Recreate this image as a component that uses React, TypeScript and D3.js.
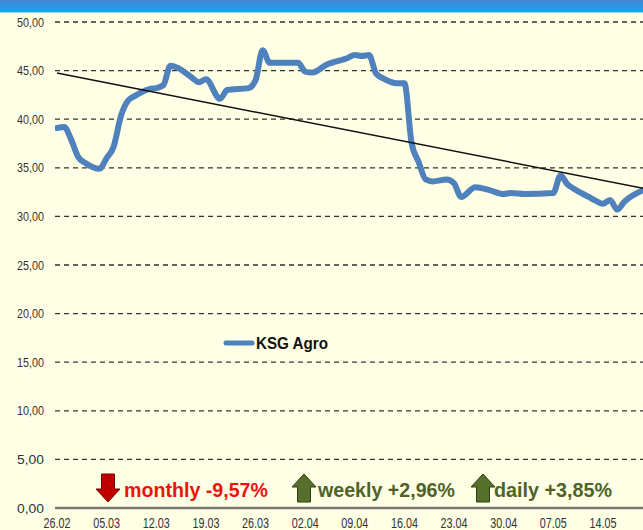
import React from "react";
import * as d3 from "d3";

const W = 643;
const H = 530;

const seriesName = "KSG Agro";
const dates = [
  "26.02", "27.02", "28.02", "01.03", "02.03", "04.03", "05.03", "06.03", "07.03", "08.03",
  "09.03", "11.03", "12.03", "13.03", "14.03", "15.03", "17.03", "18.03", "19.03", "21.03",
  "22.03", "25.03", "26.03", "27.03", "28.03", "01.04", "02.04", "03.04", "05.04", "08.04",
  "09.04", "10.04", "11.04", "12.04", "13.04", "15.04", "16.04", "17.04", "18.04", "19.04",
  "20.04", "22.04", "23.04", "24.04", "26.04", "28.04", "30.04", "01.05", "03.05", "07.05",
  "08.05", "09.05", "10.05", "12.05", "13.05", "14.05", "15.05", "16.05", "17.05", "20.05",
];
const values = [
  39.1, 39.2, 37.9, 36.1, 35.5, 34.9, 36.0, 37.2, 40.3, 41.9,
  42.4, 43.1, 43.2, 43.5, 45.5, 45.3, 44.3, 43.8, 44.1, 42.1,
  43.0, 43.2, 44.0, 47.1, 45.8, 45.8, 44.9, 44.8, 45.6, 46.3,
  46.6, 46.5, 46.6, 44.7, 44.2, 43.7, 43.7, 37.6, 35.6, 33.8,
  33.6, 33.8, 33.4, 32.0, 33.0, 32.7, 32.3, 32.4, 32.3, 32.4,
  34.2, 33.3, 32.8, 32.0, 31.6, 31.3, 31.7, 30.7, 31.5, 32.8,
];
const trendDates = ["26.02", "20.05"];
const trendValues = [44.75, 32.85];
const xTickLabels = ["26.02", "05.03", "12.03", "19.03", "26.03", "02.04", "09.04", "16.04", "23.04", "30.04", "07.05", "14.05"];
const yTicks = [0, 5, 10, 15, 20, 25, 30, 35, 40, 45, 50];
const changeLabels = ["monthly -9,57%", "weekly +2,96%", "daily +3,85%"];
const changeDirs = ["down", "up", "up"];

const parse = (s: string) => d3.timeParse("%d.%m.%Y")(s + ".2018") as Date;

export default function App() {
  const x = d3.scaleTime().domain([parse("26.02"), parse("20.05")]).range([57, 645.5]);
  const y = d3.scaleLinear().domain([0, 50]).range([508, 22]);
  const plotLeft = 55;
  const plotRight = W;

  const pts = dates.map((d, i) => ({ date: parse(d), v: values[i] }));
  const line = d3
    .line<{ date: Date; v: number }>()
    .x((d) => x(d.date))
    .y((d) => y(d.v))
    .curve(d3.curveMonotoneX);
  const trendPts = trendDates.map((d, i) => ({ date: parse(d), v: trendValues[i] }));
  const trendLine = d3
    .line<{ date: Date; v: number }>()
    .x((d) => x(d.date))
    .y((d) => y(d.v));

  const fmt = (v: number) => v.toFixed(2).replace(".", ",");

  const annX = [96, 292, 471];
  const annTextX = [124, 318, 494];
  const annTextW = [144, 137, 118];
  const red = "#EE1111";
  const green = "#4F6228";

  const arrow = (x0: number, dir: string, key: number) => {
    const w = 24;
    const top = 474;
    const bot = 502;
    const sh = 6.5;
    const cx = x0 + w / 2;
    if (dir === "down") {
      const hb = 489;
      const p = `M${cx - sh},${top} L${cx + sh},${top} L${cx + sh},${hb} L${x0 + w},${hb} L${cx},${bot} L${x0},${hb} L${cx - sh},${hb} Z`;
      return <path key={key} d={p} fill="#C00000" stroke="#7a0000" strokeWidth={1} />;
    }
    const hb = 487;
    const p = `M${cx},${top} L${x0 + w},${hb} L${cx + sh},${hb} L${cx + sh},${bot} L${cx - sh},${bot} L${cx - sh},${hb} L${x0},${hb} Z`;
    return <path key={key} d={p} fill="#56702C" stroke="#2f3d16" strokeWidth={1} />;
  };

  return (
    <svg
      width={W}
      height={H}
      style={{ position: "absolute", left: 0, top: 0, display: "block" }}
      fontFamily="Arial, 'Liberation Sans', sans-serif"
    >
      <defs>
        <linearGradient id="hdr" x1="0" y1="0" x2="0" y2="1">
          <stop offset="0" stopColor="#4A86D6" />
          <stop offset="1" stopColor="#0EA6EE" />
        </linearGradient>
        <clipPath id="plotClip">
          <rect x={plotLeft} y={0} width={plotRight - plotLeft} height={H} />
        </clipPath>
      </defs>
      <rect x={0} y={0} width={W} height={H} fill="#FFFFE6" />
      <rect x={0} y={0} width={W} height={12} fill="url(#hdr)" />
      <line x1={0} x2={W} y1={12.5} y2={12.5} stroke="#9fd8f6" strokeWidth={1} />

      {yTicks.map((t) => (
        <g key={t}>
          {t > 0 && (
            <line
              x1={plotLeft}
              x2={plotRight}
              y1={y(t)}
              y2={y(t)}
              stroke="#333"
              strokeWidth={1.3}
              strokeDasharray="5,4"
            />
          )}
          <text
            x={44}
            y={y(t)}
            dy="0.35em"
            textAnchor="end"
            fontSize={13}
            fill="#333"
            textLength={27}
            lengthAdjust="spacingAndGlyphs"
          >
            {fmt(t)}
          </text>
        </g>
      ))}

      <line x1={plotLeft} x2={plotRight} y1={y(0)} y2={y(0)} stroke="#7a7a72" strokeWidth={2.5} />

      {xTickLabels.map((l) => (
        <text
          key={l}
          x={x(parse(l))}
          y={523}
          dy="0.35em"
          textAnchor="middle"
          fontSize={14}
          fill="#333"
          textLength={27}
          lengthAdjust="spacingAndGlyphs"
        >
          {l}
        </text>
      ))}

      <g clipPath="url(#plotClip)">
        <path
          d={line(pts) || ""}
          fill="none"
          stroke="#4F81BD"
          strokeWidth={6}
          strokeLinejoin="round"
          strokeLinecap="round"
        />
        <path d={trendLine(trendPts) || ""} fill="none" stroke="#111" strokeWidth={1.5} />
      </g>

      <line x1={226} x2={252} y1={343} y2={343} stroke="#4F81BD" strokeWidth={5} strokeLinecap="round" />
      <text
        x={256}
        y={343}
        dy="0.36em"
        fontSize={16}
        fontWeight="bold"
        fill="#111"
        textLength={72}
        lengthAdjust="spacingAndGlyphs"
      >
        {seriesName}
      </text>

      {changeLabels.map((l, i) => (
        <g key={l}>
          {arrow(annX[i], changeDirs[i], i)}
          <text
            x={annTextX[i]}
            y={497}
            fontSize={21}
            fontWeight="bold"
            fill={changeDirs[i] === "down" ? red : green}
            textLength={annTextW[i]}
            lengthAdjust="spacingAndGlyphs"
          >
            {l}
          </text>
        </g>
      ))}
    </svg>
  );
}
